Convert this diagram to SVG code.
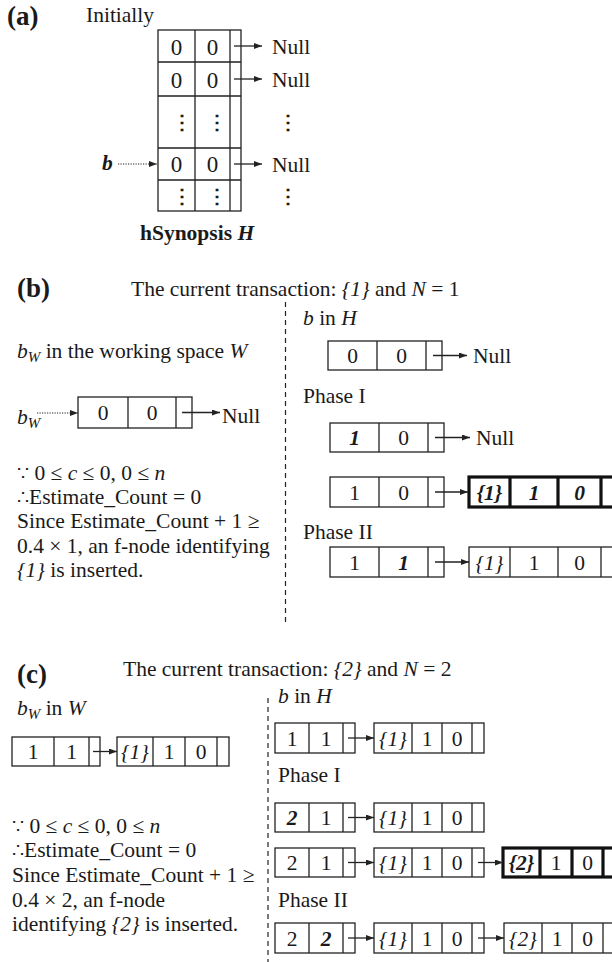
<svg xmlns="http://www.w3.org/2000/svg" width="612" height="962" viewBox="0 0 612 962">
<defs>
<marker id="ah" markerUnits="userSpaceOnUse" markerWidth="9" markerHeight="7" refX="8" refY="3" orient="auto"><path d="M0,0 L8,3 L0,6 z" fill="#222"/></marker>
<style>
text{font-family:"Liberation Serif","DejaVu Serif",serif;font-size:21.5px;fill:#1a1a1a}
.c{text-anchor:middle}
.i{font-style:italic}
.b{font-weight:bold}
.bi{font-weight:bold;font-style:italic}
.lbl{font-weight:bold;font-size:27px}
.sub{font-size:15px;font-style:italic}
.sym{font-family:"DejaVu Serif","Liberation Serif",serif;font-size:17px}
.ell{font-family:"DejaVu Serif","Liberation Serif",serif;font-size:20px;font-weight:bold}
.box{fill:#fff;stroke:#222;stroke-width:1.3}
.thick{fill:#fff;stroke:#111;stroke-width:3.2}
.ln{stroke:#222;stroke-width:1.3;fill:none}
.arr{stroke:#222;stroke-width:1.3;fill:none;marker-end:url(#ah)}
.dot{stroke:#222;stroke-width:1.2;fill:none;stroke-dasharray:1.2 1.3;marker-end:url(#ah)}
.dash{stroke:#222;stroke-width:1.2;fill:none;stroke-dasharray:5 4}
</style>
</defs>

<!-- (a) -->
<g id="labels-a">
<text x="7" y="25" class="lbl">(a)</text>
<text x="86" y="22">Initially</text>
<text x="140" y="240" class="b">hSynopsis <tspan class="bi">H</tspan></text>
<text x="102" y="170" class="bi">b</text>
</g>
<g id="hsynopsis">
<rect class="box" x="158" y="30" width="83" height="181"/>
<path class="ln" d="M195,30V211M230,30V211M158,62H241M158,96H241M158,148H241M158,180H241"/>
<text x="176.5" y="55" class="c" style="font-size:23px">0</text>
<text x="212.5" y="55" class="c" style="font-size:23px">0</text>
<text x="176.5" y="88" class="c" style="font-size:23px">0</text>
<text x="212.5" y="88" class="c" style="font-size:23px">0</text>
<text x="176.5" y="172" class="c" style="font-size:23px">0</text>
<text x="212.5" y="172" class="c" style="font-size:23px">0</text>
<text x="181.5" y="129" class="c ell">⋮</text>
<text x="216.5" y="129" class="c ell">⋮</text>
<text x="181.5" y="203" class="c ell">⋮</text>
<text x="216.5" y="203" class="c ell">⋮</text>
</g>
<g id="nulls-a">
<text x="272" y="54">Null</text>
<text x="272" y="87">Null</text>
<text x="272" y="172">Null</text>
<text x="288" y="129" class="c ell">⋮</text>
<text x="288" y="203" class="c ell">⋮</text>
</g>

<!-- (b) -->
<g id="labels-b">
<text x="17" y="297" class="lbl">(b)</text>
<text x="131" y="296">The current transaction: <tspan class="i">{1}</tspan> and <tspan class="i">N</tspan> = 1</text>
<text x="303" y="325"><tspan class="i">b</tspan> in <tspan class="i">H</tspan></text>
<text x="17" y="358"><tspan class="i">b</tspan><tspan class="sub" dy="4">W</tspan><tspan dy="-4"> in the working space </tspan><tspan class="i">W</tspan></text>
<text x="17" y="424"><tspan class="i">b</tspan><tspan class="sub" dy="4">W</tspan></text>
<text x="17" y="480"><tspan class="sym" style="font-size:19px">∵</tspan> 0 ≤ <tspan class="i">c</tspan> ≤ 0, 0 ≤ <tspan class="i">n</tspan></text>
<text x="17" y="504"><tspan class="sym" style="font-size:19px">∴</tspan>Estimate_Count = 0</text>
<text x="17" y="528">Since Estimate_Count + 1 ≥</text>
<text x="17" y="553">0.4 × 1, an f-node identifying</text>
<text x="17" y="577"><tspan class="i">{1}</tspan> is inserted.</text>
<text x="303" y="403">Phase I</text>
<text x="303" y="539">Phase II</text>
<text x="222" y="423">Null</text>
<text x="473" y="363">Null</text>
<text x="476" y="445">Null</text>
</g>
<g id="bw-b">
<rect class="box" x="78" y="397" width="114" height="31"/>
<path class="ln" d="M128,397V428M176,397V428"/>
<text x="103" y="420" class="c">0</text><text x="152" y="420" class="c">0</text>
</g>
<g id="b-h-b">
<rect class="box" x="328" y="341" width="114" height="29"/>
<path class="ln" d="M377,341V370M426,341V370"/>
<text x="352.5" y="363" class="c">0</text><text x="401.5" y="363" class="c">0</text>
</g>
<g id="b-p1a">
<rect class="box" x="330" y="423" width="114" height="29"/>
<path class="ln" d="M379,423V452M428,423V452"/>
<text x="354.5" y="445" class="c bi">1</text><text x="403.5" y="445" class="c">0</text>
</g>
<g id="b-p1b">
<rect class="box" x="330" y="477" width="114" height="30"/>
<path class="ln" d="M379,477V507M428,477V507"/>
<text x="354.5" y="499.5" class="c">1</text><text x="403.5" y="499.5" class="c">0</text>
</g>
<g id="b-f1-new">
<rect class="thick" x="469" y="477" width="150" height="30"/>
<path class="ln" style="stroke-width:3.2;stroke:#111" d="M510,477V507M558,477V507M601,477V507"/>
<text x="489.5" y="499.5" class="c bi">{1}</text><text x="534" y="499.5" class="c bi">1</text><text x="579.5" y="499.5" class="c bi">0</text>
</g>
<g id="b-p2">
<rect class="box" x="330" y="547" width="114" height="30"/>
<path class="ln" d="M379,547V577M428,547V577"/>
<text x="354.5" y="569.5" class="c">1</text><text x="403.5" y="569.5" class="c bi">1</text>
</g>
<g id="b-f1">
<rect class="box" x="469" y="547" width="150" height="30"/>
<path class="ln" d="M510,547V577M558,547V577M601,547V577"/>
<text x="489.5" y="569.5" class="c i">{1}</text><text x="534" y="569.5" class="c">1</text><text x="579.5" y="569.5" class="c">0</text>
</g>

<!-- (c) -->
<g id="labels-c">
<text x="17" y="683" class="lbl">(c)</text>
<text x="123" y="676">The current transaction: <tspan class="i">{2}</tspan> and <tspan class="i">N</tspan> = 2</text>
<text x="278" y="703"><tspan class="i">b</tspan> in <tspan class="i">H</tspan></text>
<text x="17" y="715"><tspan class="i">b</tspan><tspan class="sub" dy="4">W</tspan><tspan dy="-4"> in </tspan><tspan class="i">W</tspan></text>
<text x="12" y="833"><tspan class="sym" style="font-size:19px">∵</tspan> 0 ≤ <tspan class="i">c</tspan> ≤ 0, 0 ≤ <tspan class="i">n</tspan></text>
<text x="12" y="857"><tspan class="sym" style="font-size:19px">∴</tspan>Estimate_Count = 0</text>
<text x="12" y="882">Since Estimate_Count + 1 ≥</text>
<text x="12" y="907">0.4 × 2, an f-node</text>
<text x="12" y="931">identifying <tspan class="i">{2}</tspan> is inserted.</text>
<text x="278" y="782">Phase I</text>
<text x="278" y="907">Phase II</text>
</g>
<g id="c-bw">
<rect class="box" x="12" y="737" width="88" height="29"/>
<path class="ln" d="M54,737V766M89,737V766"/>
<text x="33" y="759" class="c">1</text><text x="71.5" y="759" class="c">1</text>
</g>
<g id="c-bw-f1">
<rect class="box" x="117" y="737" width="112" height="29"/>
<path class="ln" d="M153,737V766M185,737V766M217,737V766"/>
<text x="135" y="759" class="c i">{1}</text><text x="169" y="759" class="c">1</text><text x="201" y="759" class="c">0</text>
</g>
<g id="c-h">
<rect class="box" x="275" y="723" width="80" height="30"/>
<path class="ln" d="M309,723V753M343,723V753"/>
<text x="292" y="745.5" class="c">1</text><text x="326" y="745.5" class="c">1</text>
</g>
<g id="c-h-f1">
<rect class="box" x="374" y="723" width="110" height="30"/>
<path class="ln" d="M412,723V753M442,723V753M472,723V753"/>
<text x="393" y="745.5" class="c i">{1}</text><text x="427" y="745.5" class="c">1</text><text x="457" y="745.5" class="c">0</text>
</g>
<g id="c-p1a">
<rect class="box" x="275" y="803" width="80" height="29"/>
<path class="ln" d="M309,803V832M343,803V832"/>
<text x="292" y="825" class="c bi">2</text><text x="326" y="825" class="c">1</text>
</g>
<g id="c-p1a-f1">
<rect class="box" x="374" y="803" width="110" height="29"/>
<path class="ln" d="M412,803V832M442,803V832M472,803V832"/>
<text x="393" y="825" class="c i">{1}</text><text x="427" y="825" class="c">1</text><text x="457" y="825" class="c">0</text>
</g>
<g id="c-p1b">
<rect class="box" x="275" y="848" width="80" height="29"/>
<path class="ln" d="M309,848V877M343,848V877"/>
<text x="292" y="870" class="c">2</text><text x="326" y="870" class="c">1</text>
</g>
<g id="c-p1b-f1">
<rect class="box" x="374" y="848" width="110" height="29"/>
<path class="ln" d="M412,848V877M442,848V877M472,848V877"/>
<text x="393" y="870" class="c i">{1}</text><text x="427" y="870" class="c">1</text><text x="457" y="870" class="c">0</text>
</g>
<g id="c-f2-new">
<rect class="thick" x="503" y="848" width="116" height="29"/>
<path class="ln" style="stroke-width:3.2;stroke:#111" d="M540,848V877M572,848V877M603,848V877"/>
<text x="521.5" y="870" class="c bi">{2}</text><text x="556" y="870" class="c">1</text><text x="587.5" y="870" class="c">0</text>
</g>
<g id="c-p2">
<rect class="box" x="275" y="923" width="80" height="30"/>
<path class="ln" d="M309,923V953M343,923V953"/>
<text x="292" y="945.5" class="c">2</text><text x="326" y="945.5" class="c bi">2</text>
</g>
<g id="c-p2-f1">
<rect class="box" x="374" y="923" width="110" height="30"/>
<path class="ln" d="M412,923V953M442,923V953M472,923V953"/>
<text x="393" y="945.5" class="c i">{1}</text><text x="427" y="945.5" class="c">1</text><text x="457" y="945.5" class="c">0</text>
</g>
<g id="c-p2-f2">
<rect class="box" x="504" y="923" width="115" height="30"/>
<path class="ln" d="M542,923V953M572,923V953M603,923V953"/>
<text x="523" y="945.5" class="c i">{2}</text><text x="557" y="945.5" class="c">1</text><text x="587.5" y="945.5" class="c">0</text>
</g>

<g id="connectors">
<path class="arr" d="M234,46H262"/>
<path class="arr" d="M234,79H262"/>
<path class="arr" d="M234,164H262"/>
<path class="dot" d="M118,164H157"/>
<path class="dot" d="M37,413H78"/>
<path class="arr" d="M182,412.5H220"/>
<path class="arr" d="M433,355.5H467"/>
<path class="arr" d="M435,437.5H470"/>
<path class="arr" d="M435,492H468"/>
<path class="arr" d="M435,562H469"/>
<path class="arr" d="M93,751.5H117"/>
<path class="arr" d="M348,738H374"/>
<path class="arr" d="M348,817.5H374"/>
<path class="arr" d="M348,862.5H374"/>
<path class="arr" d="M478,862.5H503"/>
<path class="arr" d="M348,938H374"/>
<path class="arr" d="M478,938H504"/>
<path class="dash" d="M285.5,302V624"/>
<path class="dash" d="M268,698V962"/>
</g>
</svg>
